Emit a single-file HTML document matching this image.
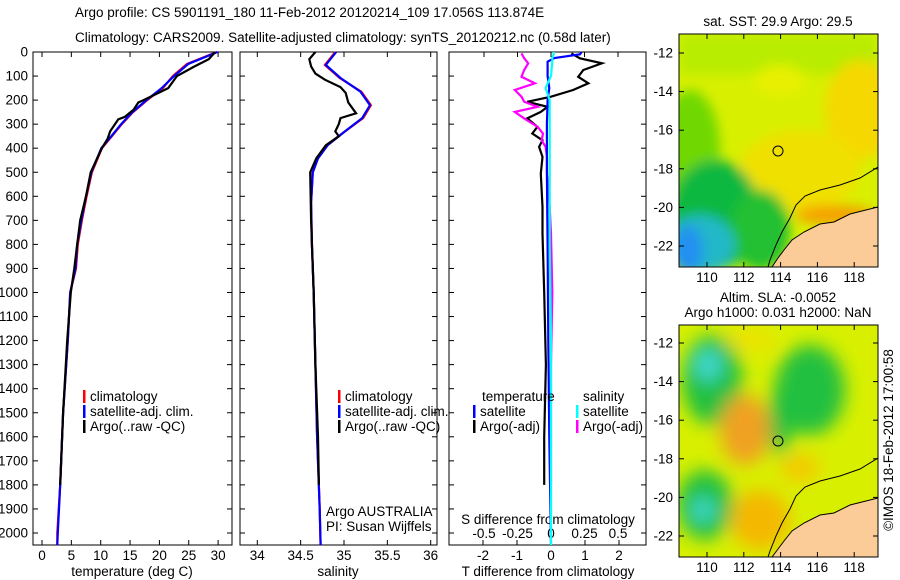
<!DOCTYPE html>
<html><head><meta charset="utf-8">
<style>
html,body{margin:0;padding:0;background:#fff;}
svg{display:block;font-family:"Liberation Sans",sans-serif;}
text{font-size:13.5px;fill:#000;}
</style></head>
<body>
<svg id="chart" width="900" height="580" viewBox="0 0 900 580">
  <defs>
    <filter id="blur4" x="-20%" y="-20%" width="140%" height="140%"><feGaussianBlur stdDeviation="9"/></filter>
    <filter id="blur2" x="-20%" y="-20%" width="140%" height="140%"><feGaussianBlur stdDeviation="6"/></filter>
    <clipPath id="clipTop"><rect x="679" y="34" width="199" height="233"/></clipPath>
    <clipPath id="clipBot"><rect x="679" y="325" width="199" height="232"/></clipPath>
  </defs>
  <text x="75" y="17">Argo profile: CS 5901191_180 11-Feb-2012 20120214_109 17.056S 113.874E</text>
  <text x="75" y="42">Climatology: CARS2009. Satellite-adjusted climatology: synTS_20120212.nc (0.58d later)</text>

  <!-- top map -->
  <g>
    <text x="778" y="26" text-anchor="middle">sat. SST: 29.9 Argo: 29.5</text>
    <g clip-path="url(#clipTop)">
      <rect x="679" y="34" width="199" height="233" fill="#d8f000"/>
      <g filter="url(#blur2)">
        <rect x="679" y="34" width="199" height="40" fill="#b8ec00"/>
        <ellipse cx="860" cy="110" rx="35" ry="50" fill="#f5d800"/>
        <ellipse cx="800" cy="170" rx="60" ry="40" fill="#f0e000"/>
        <ellipse cx="690" cy="150" rx="30" ry="60" fill="#70d800"/>
        <ellipse cx="715" cy="215" rx="45" ry="55" fill="#10b840"/>
        <ellipse cx="760" cy="230" rx="30" ry="40" fill="#20c030"/>
        <ellipse cx="700" cy="245" rx="35" ry="30" fill="#20b8c8"/>
        <ellipse cx="688" cy="250" rx="15" ry="25" fill="#2090f0"/>
        <ellipse cx="780" cy="80" rx="25" ry="15" fill="#e8f000"/>
        <ellipse cx="835" cy="215" rx="40" ry="10" fill="#f5a000"/>
      </g>
      <polygon points="878,207 850,214 834,222 820,224 804,232 792,240 784,250 778,258 772,267 878,267" fill="#fccc98"/>
      <polyline points="878,167 860,178 840,185 820,190 805,196 796,205 790,218 782,232 776,245 770,260 768,267" fill="none" stroke="#000" stroke-width="1"/>
      <polyline points="878,207 850,214 834,222 820,224 804,232 792,240 784,250 778,258 772,267" fill="none" stroke="#000" stroke-width="1"/>
    </g>
    <circle cx="778" cy="151" r="5" fill="none" stroke="#000" stroke-width="1"/>
    <rect x="679" y="34" width="199" height="233" fill="none" stroke="#000" stroke-width="1"/>
  </g>

  <!-- bottom map -->
  <g>
    <text x="778" y="302" text-anchor="middle">Altim. SLA: -0.0052</text>
    <text x="778" y="317" text-anchor="middle">Argo h1000: 0.031 h2000: NaN</text>
    <g clip-path="url(#clipBot)">
      <rect x="679" y="325" width="199" height="232" fill="#d8f000"/>
      <g filter="url(#blur4)">
        <ellipse cx="712" cy="380" rx="30" ry="45" fill="#20c040"/>
        <ellipse cx="708" cy="365" rx="14" ry="16" fill="#40d8d0"/>
        <ellipse cx="810" cy="390" rx="35" ry="45" fill="#20c040"/>
        <ellipse cx="780" cy="420" rx="12" ry="35" fill="#20c040"/>
        <ellipse cx="745" cy="430" rx="25" ry="35" fill="#f0a020"/>
        <ellipse cx="705" cy="505" rx="28" ry="35" fill="#20c040"/>
        <ellipse cx="703" cy="510" rx="12" ry="12" fill="#40d8d0"/>
        <ellipse cx="760" cy="520" rx="30" ry="30" fill="#f5b800"/>
        <ellipse cx="800" cy="468" rx="20" ry="14" fill="#f5c800"/>
        <ellipse cx="750" cy="340" rx="25" ry="10" fill="#f0e000"/>
      </g>
      <polygon points="878,498 850,505 834,513 820,515 804,523 792,531 784,541 778,549 772,557 878,557" fill="#fccc98"/>
      <polyline points="878,458 860,469 840,476 820,481 805,487 796,496 790,509 782,523 776,536 770,551 768,557" fill="none" stroke="#000" stroke-width="1"/>
      <polyline points="878,498 850,505 834,513 820,515 804,523 792,531 784,541 778,549 772,557" fill="none" stroke="#000" stroke-width="1"/>
    </g>
    <circle cx="778" cy="441" r="5" fill="none" stroke="#000" stroke-width="1"/>
    <rect x="679" y="325" width="199" height="232" fill="none" stroke="#000" stroke-width="1"/>
  </g>
  <text x="893" y="440" text-anchor="middle" transform="rotate(-90 893 440)">©IMOS 18-Feb-2012 17:00:58</text>
  <g id="dyn"></g>
</svg>
<script>
// ---- data ----
const depthTicks = [0,100,200,300,400,500,600,700,800,900,1000,1100,1200,1300,1400,1500,1600,1700,1800,1900,2000];
const tempTicks = [0,5,10,15,20,25,30];
const salTicks = [34,34.5,35,35.5,36];
const tdiffTicks = [-2,-1,0,1,2];
const sdiffTicks = [-0.5,-0.25,0,0.25,0.5];
const mapLonTicks = [110,112,114,116,118];
const mapLatTicks = [-12,-14,-16,-18,-20,-22];

const climDepth = [0,50,100,150,200,250,300,350,400,500,600,700,800,900,1000,1200,1500,1800,2000,2050];
const climTemp  = [29.8,24.7,22.3,20.6,17.9,15.5,13.6,11.9,10.2,8.5,7.6,6.8,6.1,5.8,4.8,4.4,3.6,3.1,2.6,2.6];
const satTemp   = [29.9,24.9,22.5,20.4,17.8,15.4,13.5,11.8,10.1,8.4,7.5,6.7,6.0,5.7,4.8,4.4,3.6,3.1,2.7,2.6];
const argoDepth = [0,30,60,100,150,200,210,240,270,280,330,360,400,500,600,700,800,900,1000,1200,1500,1800];
const argoTemp  = [29.5,28.4,26.0,23.0,21.5,17.3,16.4,15.6,14.1,13.0,11.6,11.2,10.2,8.3,7.5,6.5,6.0,5.5,4.9,4.3,3.6,3.1];

const salDepth = [0,54,108,165,221,275,333,388,442,500,625,800,1000,1300,1600,1900,2050];
const climSal  = [34.90,34.78,34.95,35.20,35.31,35.22,35.00,34.81,34.70,34.64,34.62,34.63,34.65,34.67,34.69,34.72,34.73];
const satSal   = [34.91,34.79,34.96,35.19,35.30,35.21,35.00,34.81,34.70,34.64,34.62,34.63,34.65,34.67,34.69,34.72,34.73];
const argoSalDepth = [0,30,60,90,115,146,170,210,255,275,300,330,350,388,442,500,700,1000,1300,1600,1800];
const argoSal  = [34.67,34.60,34.62,34.67,34.78,34.96,35.02,35.05,35.14,34.96,34.94,34.90,34.94,34.79,34.68,34.61,34.62,34.65,34.67,34.70,34.71];

const diffDepth = [6,26,47,75,103,130,158,186,207,228,249,276,311,339,367,394,436,506,644,756,1000,1300,1600,1800];
const argoTdiff = [0.6,0.85,1.5,0.95,0.8,1.1,0.65,0.0,-0.7,-0.1,-0.3,-0.7,-0.4,-0.55,-0.25,-0.35,-0.25,-0.3,-0.25,-0.25,-0.2,-0.15,-0.2,-0.2];
const argoSdiff = [-0.22,-0.2,-0.17,-0.2,-0.22,-0.12,-0.27,-0.22,-0.2,-0.1,-0.27,-0.2,-0.1,-0.06,-0.07,-0.04,-0.03,-0.03,-0.01,0.0,0.01,0.0,0.0,0.0];
const satDiffDepth = [0,10,25,40,100,150,200,300,500,800,1200,1600,2050];
const satTdiff = [0.9,0.85,0.1,-0.1,-0.1,-0.05,-0.1,-0.12,-0.12,-0.1,-0.08,-0.05,0.0];
const satSdiff = [0.02,0.02,0.01,0.01,0.0,-0.04,-0.01,-0.01,-0.01,-0.01,0.0,0.0,0.0];

// ---- geometry ----
const yTop = 52, yBot = 545;
const yD = d => yTop + d*0.2405;
const P1 = {x0:33,x1:232}, P2 = {x0:240,x1:437}, P3 = {x0:449,x1:646};
const xT = t => 42 + t*5.87;
const xS = s => 257.3 + (s-34)*86.7;
const xTd = v => 551 + v*34;
const xSd = v => 551 + v*134;
const lonX = v => 707 + (v-110)*18.4;
const latYtop = v => 53 + (-12 - v)*19.3;
const latYbot = v => 343 + (-12 - v)*19.3;

const NS = 'http://www.w3.org/2000/svg';
const g = document.getElementById('dyn');
function mk(tag, attrs, parent){ const e=document.createElementNS(NS,tag); for(const k in attrs) e.setAttribute(k,attrs[k]); (parent||g).appendChild(e); return e; }
function txt(x,y,s,anchor,parent){ const e=mk('text',{x:x,y:y,'text-anchor':anchor||'start'},parent); e.textContent=s; return e; }
function line(xs,ds,fx,color,w){ const pts=xs.map((v,i)=>fx(v).toFixed(1)+','+yD(ds[i]).toFixed(1)).join(' '); return mk('polyline',{points:pts,fill:'none',stroke:color,'stroke-width':w||2.2}); }

function panel(P,name){
  const r = mk('rect',{x:P.x0,y:yTop,width:P.x1-P.x0,height:yBot-yTop,fill:'none',stroke:'#000','stroke-width':1});
  
  
  depthTicks.forEach(d=>{
    mk('line',{x1:P.x0,x2:P.x0+5,y1:yD(d),y2:yD(d),stroke:'#000'});
    mk('line',{x1:P.x1-5,x2:P.x1,y1:yD(d),y2:yD(d),stroke:'#000'});
  });
}
panel(P1,'temperature-panel'); panel(P2,'salinity-panel'); panel(P3,'difference-panel');
depthTicks.forEach(d=>{ const t=txt(28,yD(d)+4.5,String(d),'end');   });

function xticks(ticks,fx,labels){
  ticks.forEach(v=>{
    const x=fx(v);
    mk('line',{x1:x,x2:x,y1:yBot,y2:yBot-5,stroke:'#000'});
    mk('line',{x1:x,x2:x,y1:yTop,y2:yTop+5,stroke:'#000'});
    if(labels){ const t=txt(x,560,String(v),'middle');   }
  });
}
xticks(tempTicks,xT,true);
xticks(salTicks,xS,true);
tdiffTicks.forEach(v=>{ const x=xTd(v); mk('line',{x1:x,x2:x,y1:yBot,y2:yBot-5,stroke:'#000'}); const t=txt(x,560,String(v),'middle');   });
sdiffTicks.forEach(v=>{ const x=xSd(v); mk('line',{x1:x,x2:x,y1:yTop,y2:yTop+5,stroke:'#000'}); const t=txt(x,538,String(v),'middle');   });

let t;
t=txt(132,576,'temperature (deg C)','middle');  
t=txt(338,576,'salinity','middle');  
t=txt(548,576,'T difference from climatology','middle');  
t=txt(548,524,'S difference from climatology','middle');  
t=txt(326,516,'Argo AUSTRALIA');  
t=txt(326,531,'PI: Susan Wijffels');  

// series
let s;
s=line(climTemp,climDepth,xT,'#ff0000');  
s=line(satTemp,climDepth,xT,'#0000ff');  
s=line(argoTemp,argoDepth,xT,'#000000');  
s=line(climSal,salDepth,xS,'#ff0000');  
s=line(satSal,salDepth,xS,'#0000ff');  
s=line(argoSal,argoSalDepth,xS,'#000000');  
s=line(argoTdiff,diffDepth,xTd,'#000000');  
s=line(argoSdiff,diffDepth,xSd,'#ff00ff');  
s=line(satTdiff,satDiffDepth,xTd,'#0000ff');  
s=line(satSdiff,satDiffDepth,xSd,'#00ffff');  

// legends
function legend(x,y,color,label){
  mk('rect',{x:x,y:y-11,width:2.5,height:13,fill:color});
  const e=txt(x+7,y,label);
  
  
}
legend(83,401,'#ff0000','climatology'); legend(83,416,'#0000ff','satellite-adj. clim.'); legend(83,431,'#000','Argo(..raw -QC)');
legend(338,401,'#ff0000','climatology'); legend(338,416,'#0000ff','satellite-adj. clim.'); legend(338,431,'#000','Argo(..raw -QC)');
t=txt(482,401,'temperature');  
t=txt(583,401,'salinity');  
legend(473,416,'#0000ff','satellite'); legend(473,431,'#000','Argo(-adj)');
legend(576,416,'#00ffff','satellite'); legend(576,431,'#ff00ff','Argo(-adj)');

// map ticks
[[latYtop,34,267],[latYbot,325,557]].forEach(([fy,y0,y1])=>{
  mapLatTicks.forEach(v=>{ const y=fy(v); mk('line',{x1:679,x2:684,y1:y,y2:y,stroke:'#000'}); mk('line',{x1:873,x2:878,y1:y,y2:y,stroke:'#000'});
    const e=txt(673,y+4.5,String(v),'end');
    
     });
  mapLonTicks.forEach(v=>{ const x=lonX(v); mk('line',{x1:x,x2:x,y1:y0,y2:y0+5,stroke:'#000'}); mk('line',{x1:x,x2:x,y1:y1-5,y2:y1,stroke:'#000'});
    const e=txt(x,y1+15,String(v),'middle');
    
     });
});
</script>
</body></html>
